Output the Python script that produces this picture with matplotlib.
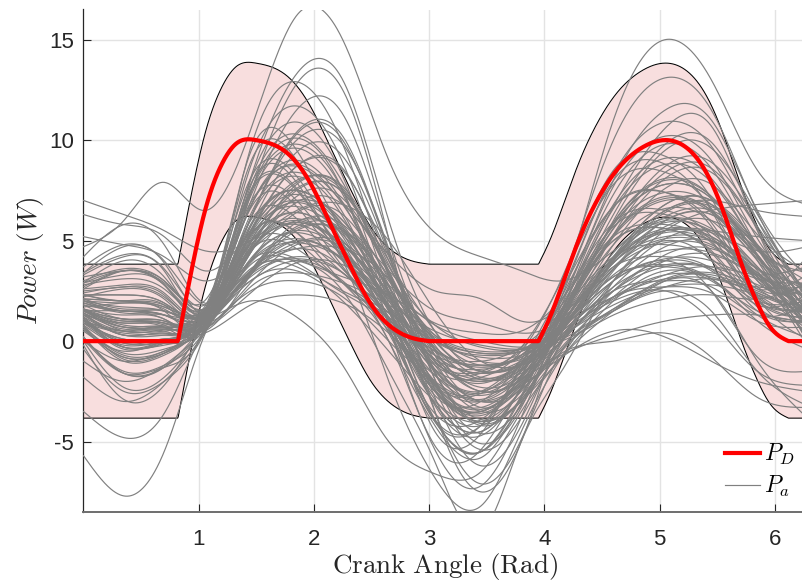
import numpy as np
import matplotlib
matplotlib.use("Agg")
import matplotlib.pyplot as plt
from matplotlib.lines import Line2D

# ---------------- data ----------------
# desired power P_D (W) vs crank angle (rad)
pd_angle = [0.0, 0.82, 0.93, 1.06, 1.2, 1.33, 1.5, 1.77, 1.97, 2.14, 2.32, 2.49, 2.67, 2.87, 3.0,
            3.95, 4.05, 4.17, 4.31, 4.46, 4.63, 4.84, 5.07, 5.24, 5.41, 5.56, 5.7, 5.85, 5.96, 6.12, 6.2832]
pd_power = [0.0, 0.0, 3.3, 6.6, 8.8, 9.85, 10.0, 9.35, 7.85, 5.86, 3.7, 1.88, 0.71, 0.13, 0.0,
            0.0, 1.21, 3.04, 5.19, 7.02, 8.52, 9.6, 10.0, 9.6, 8.35, 6.36, 4.03, 1.88, 0.71, 0.0, 0.0]
# indices where P_D has a corner (start / end of each hump)
pd_corners = [1, 14, 15, 29]
band_half_width = 3.83

# actual power curves P_a, sampled at these crank angles
pa_angle = [0.0, 0.35, 0.7, 1.05, 1.45, 1.85, 2.25, 2.65, 3.05, 3.45, 3.8, 4.15, 4.6, 5.05, 5.45, 5.85, 6.28]
pa_01 = [1.5, 1.0, 0.9, 1.0, 4.9, 6.4, 5.0, 1.7, -1.5, -2.6, -1.5, 0.8, 4.1, 5.6, 5.2, 3.4, 1.5]
pa_02 = [2.3, 2.3, 1.9, 1.3, 5.3, 5.4, 3.4, 1.4, -1.1, -1.5, -0.5, 1.2, 3.7, 4.2, 3.6, 1.8, 2.3]
pa_03 = [0.8, -0.3, -0.2, 0.7, 4.5, 7.8, 7.6, 3.3, -1.6, -3.9, -2.9, 0.1, 3.6, 6.0, 6.3, 4.2, 0.8]
pa_04 = [2.9, 3.5, 2.9, 1.5, 3.9, 4.9, 4.1, 2.2, 0.2, -0.6, -0.4, 0.8, 3.0, 4.1, 4.0, 3.1, 2.9]
pa_05 = [0.2, -1.5, -1.2, 0.5, 5.1, 6.9, 5.2, 0.6, -4.0, -5.5, -3.1, 0.9, 5.9, 8.1, 7.2, 4.0, 0.2]
pa_06 = [1.8, 1.5, 1.3, 1.0, 4.5, 4.6, 2.9, 1.4, 0.0, -0.6, -0.5, 0.5, 2.5, 3.0, 2.7, 1.3, 1.8]
pa_07 = [3.7, 4.8, 4.0, 1.8, 3.4, 4.6, 4.6, 3.1, 0.1, -1.8, -1.2, 0.7, 2.2, 3.3, 3.7, 3.3, 3.7]
pa_08 = [1.2, -0.1, 0.1, 1.2, 7.2, 9.6, 7.3, 2.3, -2.1, -3.3, -1.8, 1.4, 5.8, 7.8, 7.1, 4.3, 1.2]
pa_09 = [1.9, 1.4, 1.3, 1.4, 4.7, 7.5, 7.4, 3.7, 0.8, -0.3, -0.4, 0.7, 4.0, 6.2, 6.5, 4.7, 1.9]
pa_10 = [-0.4, -2.5, -2.0, 0.4, 5.3, 5.4, 2.9, 0.0, -5.2, -5.4, -2.3, 0.5, 3.2, 3.8, 3.1, 1.0, -0.4]
pa_11 = [1.4, 0.3, 0.4, 1.3, 8.7, 11.7, 8.9, 2.4, -3.2, -4.7, -2.3, 2.2, 8.3, 10.9, 9.7, 5.5, 1.4]
pa_12 = [3.2, 3.5, 3.0, 2.0, 8.1, 13.3, 13.0, 6.0, 0.5, -1.2, -0.7, 2.0, 8.0, 11.5, 11.0, 6.5, 3.2]
pa_13 = [2.9, 4.0, 3.2, 1.0, 2.7, 3.4, 2.9, 1.8, 0.5, -0.2, -0.4, 0.0, 1.3, 2.1, 2.3, 2.1, 2.9]
pa_14 = [1.5, 0.7, 0.7, 1.2, 7.5, 7.6, 4.3, 1.2, -2.1, -2.5, -0.9, 2.0, 5.9, 6.5, 5.2, 2.2, 1.5]
pa_15 = [0.7, -0.7, -0.5, 0.8, 3.4, 5.5, 5.4, 2.7, -0.4, -1.9, -1.6, 0.0, 2.7, 4.7, 5.0, 3.6, 0.7]
pa_16 = [2.8, 3.1, 2.6, 1.6, 5.8, 7.5, 6.0, 3.5, 1.5, 0.9, 0.4, 1.1, 3.9, 5.2, 5.0, 3.6, 2.8]
pa_17 = [0.1, -1.6, -1.3, 0.6, 7.8, 7.9, 4.1, 0.4, -3.6, -3.9, -1.7, 2.4, 8.0, 8.8, 6.5, 2.2, 0.1]
pa_18 = [1.4, 0.7, 0.6, 1.0, 4.1, 5.4, 4.3, 1.8, -0.7, -1.6, -1.1, 0.2, 2.1, 3.1, 3.1, 2.4, 1.4]
pa_19 = [2.3, 2.0, 1.8, 1.5, 6.1, 10.0, 9.8, 4.6, -1.9, -5.1, -3.3, 1.1, 5.6, 8.7, 8.9, 6.0, 2.3]
pa_20 = [0.2, -1.6, -1.3, 0.8, 3.2, 4.2, 3.4, 0.7, -2.5, -3.7, -2.2, 0.6, 3.9, 5.4, 5.0, 3.2, 0.2]
pa_21 = [3.3, 4.2, 3.5, 1.7, 9.4, 9.5, 5.4, 1.8, -1.2, -1.6, -0.3, 3.0, 7.8, 8.4, 6.6, 3.0, 3.3]
pa_22 = [1.4, 0.6, 0.6, 1.1, 5.7, 7.5, 5.8, 2.2, -1.0, -2.0, -1.2, 1.2, 5.3, 7.2, 6.5, 4.0, 1.4]
pa_23 = [1.5, 1.5, 1.1, 0.5, 3.3, 5.7, 5.6, 2.5, -3.5, -7.1, -4.9, -0.5, 1.5, 3.0, 3.3, 2.5, 1.5]
pa_24 = [1.2, -0.3, 0.0, 1.4, 6.7, 8.8, 6.8, 3.1, 0.1, -0.7, -0.5, 0.8, 3.3, 4.5, 4.4, 3.2, 1.2]
pa_25 = [1.2, 0.3, 0.3, 1.0, 3.6, 3.7, 2.5, 1.2, -0.9, -1.4, -0.7, 1.8, 5.7, 6.3, 5.0, 2.0, 1.2]
pa_26 = [1.3, 0.9, 0.7, 0.7, 7.4, 10.1, 7.5, 0.8, -5.4, -7.2, -3.8, 1.4, 7.3, 9.8, 8.6, 4.7, 1.3]
pa_27 = [2.7, 3.5, 2.8, 1.2, 3.3, 4.9, 4.9, 2.8, 0.8, 0.0, -0.3, 0.1, 1.6, 2.7, 3.1, 2.7, 2.7]
pa_28 = [2.6, 2.8, 2.4, 1.5, 6.9, 7.0, 4.2, 1.6, -1.4, -1.8, -0.5, 3.1, 8.5, 9.2, 7.1, 3.0, 2.6]
pa_29 = [1.0, -0.1, 0.0, 1.0, 4.5, 5.9, 4.6, 0.9, -3.1, -4.5, -2.4, 0.6, 3.7, 5.1, 4.8, 3.2, 1.0]
pa_30 = [3.4, 4.7, 3.9, 1.3, 4.9, 7.9, 7.7, 3.8, -0.2, -1.9, -1.4, 0.8, 4.8, 7.6, 7.8, 5.3, 3.4]
pa_31 = [0.9, 0.4, 0.3, 0.4, 1.8, 2.3, 1.9, 0.4, -1.7, -2.7, -1.9, -0.7, 0.3, 1.0, 1.3, 1.3, 0.9]
pa_32 = [1.6, 0.9, 0.8, 1.2, 8.9, 9.0, 4.9, 0.9, -4.0, -4.2, -1.4, 1.6, 5.0, 5.6, 4.5, 2.0, 1.6]
pa_33 = [3.4, 4.3, 3.6, 1.8, 6.7, 8.7, 6.9, 4.3, 2.5, 2.1, 1.0, 1.8, 5.6, 7.4, 6.8, 4.5, 3.4]
pa_34 = [0.7, -1.0, -0.7, 1.0, 6.1, 10.4, 10.2, 4.4, -1.9, -4.6, -3.2, 0.4, 4.2, 6.8, 7.0, 4.8, 0.7]
pa_35 = [2.1, 2.0, 1.7, 1.2, 3.3, 4.1, 3.4, 1.1, -1.7, -2.9, -1.5, 1.6, 6.6, 8.8, 7.9, 4.7, 2.1]
pa_36 = [0.2, -1.6, -1.3, 0.8, 4.8, 4.9, 2.9, 1.1, -0.7, -1.2, -0.8, 0.7, 3.2, 3.7, 3.1, 1.3, 0.2]
pa_37 = [2.3, 2.0, 1.8, 1.5, 9.6, 12.9, 9.8, 3.2, -2.2, -3.5, -1.7, 2.8, 10.0, 13.1, 11.5, 6.4, 2.3]
pa_38 = [0.9, 0.1, 0.1, 0.6, 2.9, 4.8, 4.7, 2.3, -1.2, -3.0, -2.4, -0.3, 2.2, 4.0, 4.3, 3.1, 0.9]
pa_39 = [2.9, 3.3, 2.8, 1.6, 7.4, 7.5, 4.5, 1.1, -4.5, -4.6, -1.2, 2.5, 6.7, 7.4, 5.9, 2.7, 2.9]
pa_40 = [1.3, 0.3, 0.4, 1.1, 6.7, 9.0, 6.9, 2.4, -1.4, -2.5, -1.4, 0.2, 1.8, 2.7, 2.8, 2.3, 1.3]
pa_41 = [2.1, 2.0, 1.7, 1.3, 4.4, 6.9, 6.8, 3.5, -1.0, -3.3, -2.3, 1.0, 6.0, 9.5, 9.6, 6.3, 2.1]
pa_42 = [0.6, -0.8, -0.6, 0.7, 3.5, 4.6, 3.6, 0.0, -4.2, -5.8, -3.1, 0.0, 2.2, 3.3, 3.2, 2.3, 0.6]
pa_43 = [4.2, 5.8, 4.8, 1.9, 4.0, 4.1, 3.2, 2.3, 0.9, 0.4, 0.5, 2.1, 5.2, 5.8, 4.9, 2.6, 4.2]
pa_44 = [-0.2, -2.9, -2.2, 1.0, 4.9, 6.4, 5.0, 2.1, -0.7, -1.6, -1.1, 0.9, 4.4, 6.1, 5.6, 3.5, -0.2]
pa_45 = [1.1, 0.0, 0.1, 1.0, 7.3, 12.8, 12.5, 5.1, -3.5, -7.5, -5.0, 0.9, 6.7, 10.6, 10.7, 5.5, 1.1]
pa_46 = [2.5, 2.7, 2.3, 1.4, 7.7, 10.3, 7.9, 3.3, -0.3, -1.2, -0.7, 1.4, 5.2, 7.0, 6.4, 4.1, 2.5]
pa_47 = [0.7, -0.6, -0.4, 0.7, 3.8, 3.9, 2.4, 0.8, -2.2, -2.6, -1.3, 0.2, 2.2, 2.7, 2.4, 1.0, 0.7]
pa_48 = [1.9, 1.5, 1.3, 1.2, 4.7, 6.1, 4.8, 2.5, 0.3, -0.5, -0.4, 0.5, 2.7, 3.8, 3.7, 2.8, 1.9]
pa_49 = [3.0, 3.6, 3.0, 1.6, 5.4, 8.7, 8.5, 4.2, -0.4, -2.5, -1.7, 0.9, 3.9, 6.0, 6.3, 4.6, 3.0]
pa_50 = [0.0, -2.3, -1.8, 0.9, 5.5, 7.3, 5.6, 1.5, -2.4, -3.6, -2.1, 1.2, 5.9, 8.0, 7.2, 4.2, 0.0]
pa_51 = [7.0, 6.3, 5.5, 4.5, 5.0, 6.5, 6.8, 5.0, 1.5, -1.0, -1.2, 0.0, 3.0, 5.5, 6.5, 6.8, 7.0]
pa_52 = [6.3, 5.8, 5.2, 3.5, 5.5, 8.0, 7.5, 4.0, 0.5, -1.5, -1.0, 0.3, 4.0, 6.5, 7.0, 6.5, 6.2]
pa_53 = [5.2, 4.8, 4.2, 3.0, 4.5, 6.0, 5.5, 3.0, 0.0, -1.5, -1.2, 0.2, 3.5, 5.5, 5.5, 5.2, 5.0]
pa_54 = [4.7, 6.0, 7.9, 6.5, 10.5, 16.2, 15.0, 9.0, 5.4, 4.2, 3.5, 3.0, 4.5, 6.0, 5.5, 4.5, 4.7]
pa_55 = [-5.7, -7.7, -5.5, 0.3, 3.5, 5.0, 4.0, 1.0, -2.5, -4.0, -3.0, -0.8, 1.5, 3.0, 2.5, -1.0, -3.8]
pa_56 = [-3.5, -4.8, -3.6, 0.6, 3.0, 4.0, 3.0, 0.5, -2.5, -4.0, -3.0, -0.5, 1.5, 2.5, 1.5, -1.5, -3.2]
pa_57 = [1.0, 0.5, 0.8, 1.2, 3.5, 4.0, 2.5, -1.5, -6.0, -9.5, -5.0, -1.5, 3.0, 5.0, 4.0, 1.5, 1.0]
pa_58 = [2.0, 1.5, 1.3, 1.0, 4.5, 6.0, 4.0, -2.0, -6.8, -8.2, -4.5, -0.8, 2.5, 4.0, 3.5, 2.0, 2.0]
pa_59 = [2.0, 1.5, 1.5, 1.5, 5.0, 7.0, 6.0, 2.5, -1.0, -2.0, -1.2, 2.5, 11.0, 15.0, 13.0, 8.5, 6.8]
pa_60 = [0.5, -0.5, 0.0, 0.8, 3.0, 3.5, 2.0, -0.5, -3.0, -4.0, -2.5, -0.6, 0.0, 0.4, -0.8, -2.8, -3.3]
pa_61 = [-1.0, -2.0, -1.2, 0.5, 2.5, 3.0, 2.2, 0.0, -2.0, -3.0, -2.2, -0.8, 0.5, 0.2, -1.0, -2.0, -2.5]
pa_62 = [1.0, 0.5, 0.5, 1.0, 2.0, 1.2, -1.2, -5.0, -6.6, -6.5, -3.5, -0.8, 2.0, 3.5, 3.0, 1.5, 1.0]
pa_63 = [1.5, 0.8, 0.7, 1.1, 4.4, 7.2, 7.1, 3.4, -0.7, -2.5, -1.9, 0.5, 4.0, 6.4, 6.7, 4.6, 1.5]
pa_64 = [1.6, 1.3, 1.1, 0.8, 6.1, 8.2, 6.2, 1.5, -2.9, -4.2, -2.4, 0.7, 4.2, 5.9, 5.4, 3.3, 1.6]
pa_65 = [1.6, 0.7, 0.7, 1.4, 5.7, 9.4, 9.2, 4.3, -1.5, -4.2, -2.8, 1.0, 5.2, 8.1, 8.4, 5.6, 1.6]
pa_66 = [2.3, 2.3, 1.9, 1.3, 5.2, 6.7, 5.3, 2.4, -0.4, -1.3, -0.8, 0.8, 3.6, 4.9, 4.7, 3.3, 2.3]
pa_67 = [0.6, -0.8, -0.6, 0.7, 3.5, 5.9, 5.8, 2.7, -2.4, -5.4, -3.8, -0.1, 3.0, 5.1, 5.4, 3.7, 0.6]
pa_68 = [1.6, 1.1, 1.0, 1.1, 6.0, 6.1, 3.6, 1.0, -2.7, -3.0, -1.1, 2.2, 6.7, 7.4, 5.7, 2.3, 1.6]
pa_69 = [1.3, 0.5, 0.5, 1.0, 8.0, 10.9, 8.2, 1.8, -3.9, -5.5, -2.8, 1.5, 6.8, 9.1, 8.1, 4.6, 1.3]
pa_70 = [2.4, 2.7, 2.2, 1.2, 5.3, 8.7, 8.6, 4.0, 0.0, -1.5, -1.2, 0.8, 5.3, 8.4, 8.6, 5.7, 2.4]
pa_71 = [1.6, 0.5, 0.6, 1.5, 4.6, 5.9, 4.8, 2.0, -1.0, -2.1, -1.0, 1.5, 5.3, 7.1, 6.5, 4.2, 1.6]
pa_72 = [1.5, 1.1, 0.9, 0.9, 3.5, 5.6, 5.5, 2.8, -2.8, -6.2, -4.2, 0.0, 2.5, 4.3, 4.6, 3.4, 1.5]
pa_73 = [1.7, 1.9, 1.5, 0.6, 5.5, 7.5, 5.7, 1.5, -2.3, -3.5, -2.1, 0.0, 2.5, 3.7, 3.6, 2.4, 1.7]
pa_74 = [2.1, 1.6, 1.5, 1.6, 6.9, 11.5, 11.3, 5.1, -0.7, -3.0, -2.0, 1.3, 6.3, 9.8, 9.9, 6.0, 2.1]
pa_75 = [0.9, -0.2, -0.1, 0.8, 6.6, 6.7, 3.7, 0.6, -3.9, -4.2, -1.7, 1.4, 5.0, 5.6, 4.4, 1.7, 0.9]
pa_76 = [1.1, -0.3, -0.1, 1.2, 4.0, 5.1, 4.1, 1.7, -0.9, -1.9, -1.1, 1.4, 5.8, 7.8, 7.1, 4.3, 1.1]
pa_77 = [2.6, 3.5, 2.8, 1.0, 4.6, 7.6, 7.4, 3.5, -1.6, -4.1, -2.9, 0.4, 4.2, 6.8, 7.0, 4.8, 2.6]
pa_78 = [1.8, 1.1, 1.0, 1.4, 7.4, 9.8, 7.5, 1.6, -3.9, -5.5, -2.7, 1.0, 4.1, 5.5, 5.2, 3.6, 1.8]
pa_79 = [0.9, 0.1, 0.1, 0.6, 2.4, 3.9, 3.8, 2.0, -1.4, -3.5, -2.7, -0.4, 1.6, 3.1, 3.4, 2.6, 0.9]
pa_80 = [2.0, 1.9, 1.6, 1.1, 5.3, 7.0, 5.5, 1.6, -2.2, -3.4, -1.9, 1.8, 7.7, 10.2, 9.0, 5.1, 2.0]
pa_81 = [0.8, -0.9, -0.6, 1.3, 6.1, 10.3, 10.0, 4.5, -0.5, -2.3, -1.7, 0.6, 3.6, 5.7, 6.0, 4.3, 0.8]
pa_82 = [2.2, 2.6, 2.1, 0.9, 4.4, 5.8, 4.5, 2.2, 0.0, -0.8, -0.7, 0.7, 4.0, 5.5, 5.1, 3.3, 2.2]
pa_83 = [1.1, -0.4, -0.1, 1.4, 8.1, 8.2, 4.7, 1.6, -0.5, -1.0, -0.3, 1.5, 4.2, 4.8, 4.1, 2.0, 1.1]
pa_84 = [2.0, 1.7, 1.5, 1.2, 4.0, 6.4, 6.3, 3.2, 0.3, -1.0, -0.9, 0.6, 4.1, 6.5, 6.8, 4.7, 2.0]
pa_85 = [1.5, 1.0, 0.9, 1.0, 6.3, 8.4, 6.4, 1.5, -3.1, -4.5, -2.4, 1.0, 4.8, 6.6, 6.0, 3.7, 1.5]
pa_86 = [0.0, -1.0, -0.5, 0.6, 3.5, 5.0, 4.0, 1.0, -2.5, -3.5, -2.0, 0.3, 2.0, 2.5, 1.0, -1.5, -2.2]
pa_87 = [-1.8, -3.0, -2.0, 0.4, 4.0, 5.5, 4.5, 1.5, -2.0, -3.0, -1.8, 0.5, 3.0, 4.0, 2.5, -0.8, -1.5]
pa_curves = [pa_01, pa_02, pa_03, pa_04, pa_05, pa_06, pa_07, pa_08, pa_09, pa_10,
             pa_11, pa_12, pa_13, pa_14, pa_15, pa_16, pa_17, pa_18, pa_19, pa_20,
             pa_21, pa_22, pa_23, pa_24, pa_25, pa_26, pa_27, pa_28, pa_29, pa_30,
             pa_31, pa_32, pa_33, pa_34, pa_35, pa_36, pa_37, pa_38, pa_39, pa_40,
             pa_41, pa_42, pa_43, pa_44, pa_45, pa_46, pa_47, pa_48, pa_49, pa_50,
             pa_51, pa_52, pa_53, pa_54, pa_55, pa_56, pa_57, pa_58, pa_59, pa_60,
             pa_61, pa_62, pa_63, pa_64, pa_65, pa_66, pa_67, pa_68, pa_69, pa_70,
             pa_71, pa_72, pa_73, pa_74, pa_75, pa_76, pa_77, pa_78, pa_79, pa_80,
             pa_81, pa_82, pa_83, pa_84, pa_85, pa_86, pa_87]

x_ticks = [1, 2, 3, 4, 5, 6]
y_ticks = [-5, 0, 5, 10, 15]
x_label = r"$\mathrm{Crank\ Angle\ (Rad)}$"
y_label = r"$Power\ (W)$"
legend_labels = [r"$P_D$", r"$P_a$"]


# ---------------- smooth line rendering ----------------
def spline_curve(x, y, xs):
    """natural cubic spline through the sampled points (display smoothing)"""
    x = np.asarray(x, float)
    y = np.asarray(y, float)
    n = len(x)
    h = np.diff(x)
    A = np.zeros((n, n))
    r = np.zeros(n)
    A[0, 0] = 1.0
    A[-1, -1] = 1.0
    for i in range(1, n - 1):
        A[i, i - 1] = h[i - 1]
        A[i, i] = 2 * (h[i - 1] + h[i])
        A[i, i + 1] = h[i]
        r[i] = 6 * ((y[i + 1] - y[i]) / h[i] - (y[i] - y[i - 1]) / h[i - 1])
    M = np.linalg.solve(A, r)
    idx = np.clip(np.searchsorted(x, xs) - 1, 0, n - 2)
    t = xs - x[idx]
    hi = h[idx]
    a = y[idx]
    b = (y[idx + 1] - y[idx]) / hi - hi * (2 * M[idx] + M[idx + 1]) / 6
    c = M[idx] / 2
    d = (M[idx + 1] - M[idx]) / (6 * hi)
    return a + b * t + c * t ** 2 + d * t ** 3


XMAX = 2 * np.pi
xs = np.linspace(0, XMAX, 1200)

# P_D: flat parts straight, humps smoothed between their corners
pdx = np.asarray(pd_angle)
pdy = np.asarray(pd_power)
pd_dense = np.interp(xs, pdx, pdy)
for s, e in [(pd_corners[0], pd_corners[1]), (pd_corners[2], pd_corners[3])]:
    m = (xs >= pdx[s]) & (xs <= pdx[e])
    pd_dense[m] = spline_curve(pdx[s:e + 1], pdy[s:e + 1], xs[m])
pd_dense = np.clip(pd_dense, 0, None)
band_hi = pd_dense + band_half_width
band_lo = pd_dense - band_half_width

# ---------------- figure ----------------
plt.rcParams["mathtext.fontset"] = "cm"
fig = plt.figure(figsize=(8.03, 5.86), dpi=100)
W, H = 803.0, 586.0
ax_left, ax_right, ax_top, ax_bottom = 83.5, 83.5 + 115.2 * XMAX, 9.5, 512.0
ax = fig.add_axes([ax_left / W, 1 - ax_bottom / H, (ax_right - ax_left) / W, (ax_bottom - ax_top) / H])

ax.set_xlim(0, XMAX)
ax.set_ylim(-8.5, 16.5)

ax.grid(True, color="#e3e3e3", linewidth=1.0, zorder=0)
ax.set_axisbelow(True)

ax.fill_between(xs, band_lo, band_hi, color="#f8dede", linewidth=0, zorder=1)
ax.plot(xs, band_hi, color="black", linewidth=0.75, zorder=2)
ax.plot(xs, band_lo, color="black", linewidth=0.75, zorder=2)

for curve in pa_curves:
    ax.plot(xs, spline_curve(pa_angle, curve, xs), color="#808080", linewidth=0.85, zorder=3)

ax.plot(xs, pd_dense, color="#ff0000", linewidth=3.0, zorder=5, solid_joinstyle="round")

# axes styling (MATLAB-like, box off)
for side in ["top", "right"]:
    ax.spines[side].set_visible(False)
ax.spines["left"].set_color("#262626")
ax.spines["left"].set_linewidth(0.9)
ax.spines["bottom"].set_color("#6e6e6e")
ax.spines["bottom"].set_linewidth(1.4)
ax.set_xticks(x_ticks)
ax.set_yticks(y_ticks)
ax.set_yticklabels([str(v) for v in y_ticks])
ax.tick_params(axis="both", direction="in", length=5.5, width=0.8, colors="#262626",
               labelsize=16)
ax.tick_params(axis="x", pad=12)
ax.tick_params(axis="y", pad=7)
for lab in ax.get_xticklabels() + ax.get_yticklabels():
    lab.set_fontfamily("Liberation Sans")
    lab.set_color("#262626")

ax.set_xlabel(x_label, fontsize=19.5, color="#262626", labelpad=1)
ax.set_ylabel(y_label, fontsize=19.5, color="#262626", labelpad=2)

handles = [Line2D([], [], color="#ff0000", linewidth=3.0),
           Line2D([], [], color="#808080", linewidth=0.85)]
leg = fig.legend(handles, legend_labels, loc="lower right", bbox_to_anchor=(1.004, 0.128),
                 bbox_transform=fig.transFigure, frameon=False, fontsize=17,
                 handlelength=1.5, handletextpad=0.15, labelspacing=0.3, borderaxespad=0.1)

fig.savefig("out.png", dpi=100)
